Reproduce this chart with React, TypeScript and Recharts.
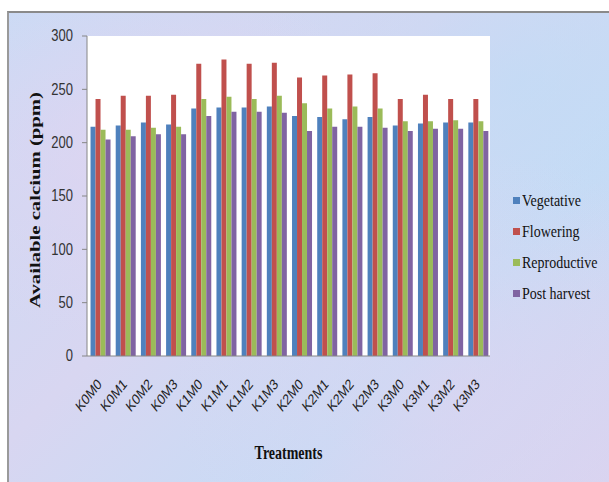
import React from "react";
import { BarChart, Bar, XAxis, YAxis, CartesianGrid, Legend } from "recharts";

const treatments = ["K0M0","K0M1","K0M2","K0M3","K1M0","K1M1","K1M2","K1M3","K2M0","K2M1","K2M2","K2M3","K3M0","K3M1","K3M2","K3M3"];
const vegetative = [215,216,219,217,232,233,233,234,225,224,222,224,216,218,219,219];
const flowering = [241,244,244,245,274,278,274,275,261,263,264,265,241,245,241,241];
const reproductive = [212,212,214,215,241,243,241,244,237,232,234,232,220,220,221,220];
const postHarvest = [203,206,208,208,225,229,229,228,211,215,215,214,211,213,213,211];
const yTicks = [0,50,100,150,200,250,300];

const seriesNames = ["Vegetative","Flowering","Reproductive","Post harvest"];
const seriesKeys = ["veg","flo","rep","post"];
const seriesColors = ["#4F81BD","#C0504D","#9BBB59","#8064A2"];

const data = treatments.map((t, i) => ({
  name: t,
  veg: vegetative[i],
  flo: flowering[i],
  rep: reproductive[i],
  post: postHarvest[i],
}));

const YTick = (props: any) => {
  const { x, y, payload } = props;
  return (
    <text x={x} y={y} textAnchor="end" dominantBaseline="central" fontSize={13}
      fontFamily="'Liberation Sans', Arial, sans-serif" fill="#333"
      transform={`translate(0 ${y}) scale(1 1.2) translate(0 ${-y})`}>
      {payload.value}
    </text>
  );
};

const XTick = (props: any) => {
  const { x, y, payload } = props;
  return (
    <g transform={`translate(${x + 3},${y + 21}) scale(1 1.25)`}>
      <text textAnchor="end" transform="rotate(-45)" fontSize={12}
        fontFamily="'Liberation Sans', Arial, sans-serif" fill="#222">
        {payload.value}
      </text>
    </g>
  );
};

const YLabel = (props: any) => {
  const vb = props.viewBox || {};
  const cx = vb.x + 26;
  const cy = vb.y + vb.height / 2 + 4;
  return (
    <text x={0} y={0} transform={`translate(${cx},${cy}) rotate(-90)`} textAnchor="middle"
      dominantBaseline="central" fontSize={15} fontWeight="bold"
      fontFamily="'Liberation Serif', 'Times New Roman', serif" fill="#111"
      textLength={216} lengthAdjust="spacingAndGlyphs">
      Available calcium (ppm)
    </text>
  );
};

const XLabel = (props: any) => {
  const vb = props.viewBox || {};
  const cx = vb.x + vb.width / 2;
  const by = vb.y + 103;
  return (
    <text x={0} y={0} transform={`translate(${cx},${by}) scale(1 1.3)`} textAnchor="middle"
      fontSize={14} fontWeight="bold"
      fontFamily="'Liberation Serif', 'Times New Roman', serif" fill="#111">
      Treatments
    </text>
  );
};

const LegendContent = () => (
  <div>
    {seriesNames.map((n, i) => (
      <div key={n} style={{ display: "flex", alignItems: "center", height: 31 }}>
        <span style={{ display: "inline-block", width: 7, height: 7, background: seriesColors[i], marginRight: 2 }} />
        <span style={{
          fontFamily: "'Liberation Serif', 'Times New Roman', serif", fontSize: 14, color: "#111",
          display: "inline-block", transform: "scaleY(1.25)", whiteSpace: "nowrap",
        }}>{n}</span>
      </div>
    ))}
  </div>
);

export default function App() {
  return (
    <div style={{
      position: "absolute", left: 7, top: 11, width: 600, height: 469,
      borderTop: "2px solid #8a8a8a", borderLeft: "2px solid #9a9a9a",
      background:
        "radial-gradient(ellipse at 20% 30%, rgba(228,210,240,0.6), rgba(228,210,240,0) 40%)," +
        "radial-gradient(ellipse at 75% 80%, rgba(225,210,240,0.5), rgba(225,210,240,0) 45%)," +
        "radial-gradient(ellipse at 85% 15%, rgba(190,220,246,0.6), rgba(190,220,246,0) 40%)," +
        "linear-gradient(135deg, #cadbf5 0%, #d8d6f1 40%, #c8dbf5 70%, #d8d4f0 100%)",
      overflow: "hidden",
    }}>
      <BarChart width={600} height={469} data={data}
        margin={{ top: 23, right: 119, left: 0, bottom: 0 }}
        barCategoryGap="14%" barGap={0}>
        <CartesianGrid fill="#ffffff" horizontal={false} vertical={false} />
        <XAxis dataKey="name" height={126} interval={0} tick={<XTick />} tickLine={false}
          axisLine={{ stroke: "#868686" }} label={<XLabel />} />
        <YAxis width={78} domain={[0, 300]} ticks={yTicks} tick={<YTick />} tickSize={5} tickMargin={9}
          axisLine={{ stroke: "#868686" }} tickLine={{ stroke: "#868686" }} label={<YLabel />} />
        <Legend layout="vertical" align="center" verticalAlign="middle" content={<LegendContent />}
          wrapperStyle={{ position: "absolute", left: 504, top: 172, width: 96 }} />
        {seriesKeys.map((k, i) => (
          <Bar key={k} dataKey={k} name={seriesNames[i]} fill={seriesColors[i]} isAnimationActive={false} />
        ))}
      </BarChart>
    </div>
  );
}
